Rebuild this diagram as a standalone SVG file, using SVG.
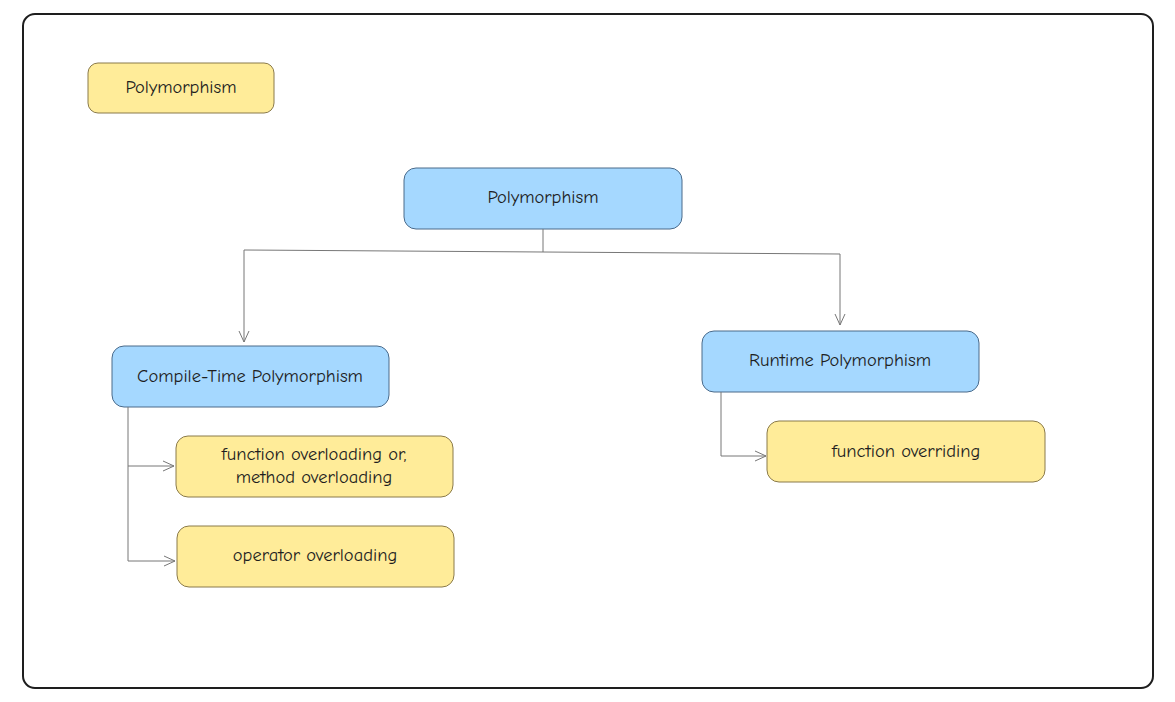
<svg xmlns="http://www.w3.org/2000/svg" width="1175" height="702" viewBox="0 0 1175 702">
<defs>
<style>
.frame{fill:#ffffff;stroke:#1e1e1e;stroke-width:2}
.y{fill:#ffec99;stroke:#8a7a4a;stroke-width:1}
.b{fill:#a5d8ff;stroke:#4a6a8a;stroke-width:1}
.t{font-family:"Comic Neue","Liberation Sans",sans-serif;font-size:18.5px;fill:#1e1e1e;text-anchor:middle;dominant-baseline:middle}
.c{fill:none;stroke:#777777;stroke-width:1}
</style>
<marker id="ar" viewBox="0 0 12 12" refX="11" refY="6" markerWidth="12" markerHeight="12" markerUnits="userSpaceOnUse" orient="auto">
<path d="M0,1 L11,6 L0,11" fill="none" stroke="#777777" stroke-width="1"/>
</marker>
</defs>
<rect width="1175" height="702" fill="#ffffff"/>
<rect class="frame" x="23" y="14" width="1130" height="674" rx="12"/>
<g id="legend"><rect class="y" x="88" y="63" width="186" height="50" rx="10"/><text class="t" x="181" y="88">Polymorphism</text></g>
<g id="root"><rect class="b" x="404" y="168" width="278" height="61" rx="12"/><text class="t" x="543" y="198">Polymorphism</text></g>
<g id="compile"><rect class="b" x="112" y="346" width="277" height="61" rx="12"/><text class="t" x="250" y="377">Compile-Time Polymorphism</text></g>
<g id="runtime"><rect class="b" x="702" y="331" width="277" height="61" rx="12"/><text class="t" x="840" y="361">Runtime Polymorphism</text></g>
<g id="fover"><rect class="y" x="176" y="436" width="277" height="61" rx="12"/><text class="t" x="314" y="455">function overloading or,</text><text class="t" x="314" y="478">method overloading</text></g>
<g id="opover"><rect class="y" x="177" y="526" width="277" height="61" rx="12"/><text class="t" x="315" y="556">operator overloading</text></g>
<g id="foverride"><rect class="y" x="767" y="421" width="278" height="61" rx="12"/><text class="t" x="906" y="452">function overriding</text></g>
<g id="connectors">
<path class="c" d="M543,229 L543,252"/>
<path class="c" d="M244,250 L543,252 L840,254"/>
<path class="c" d="M244,250 L244,342" marker-end="url(#ar)"/>
<path class="c" d="M840,254 L840,325" marker-end="url(#ar)"/>
<path class="c" d="M128,407 L128,561"/>
<path class="c" d="M128,466 L174,466" marker-end="url(#ar)"/>
<path class="c" d="M128,561 L175,561" marker-end="url(#ar)"/>
<path class="c" d="M721,392 L721,456 L766,456" marker-end="url(#ar)"/>
</g>
</svg>
